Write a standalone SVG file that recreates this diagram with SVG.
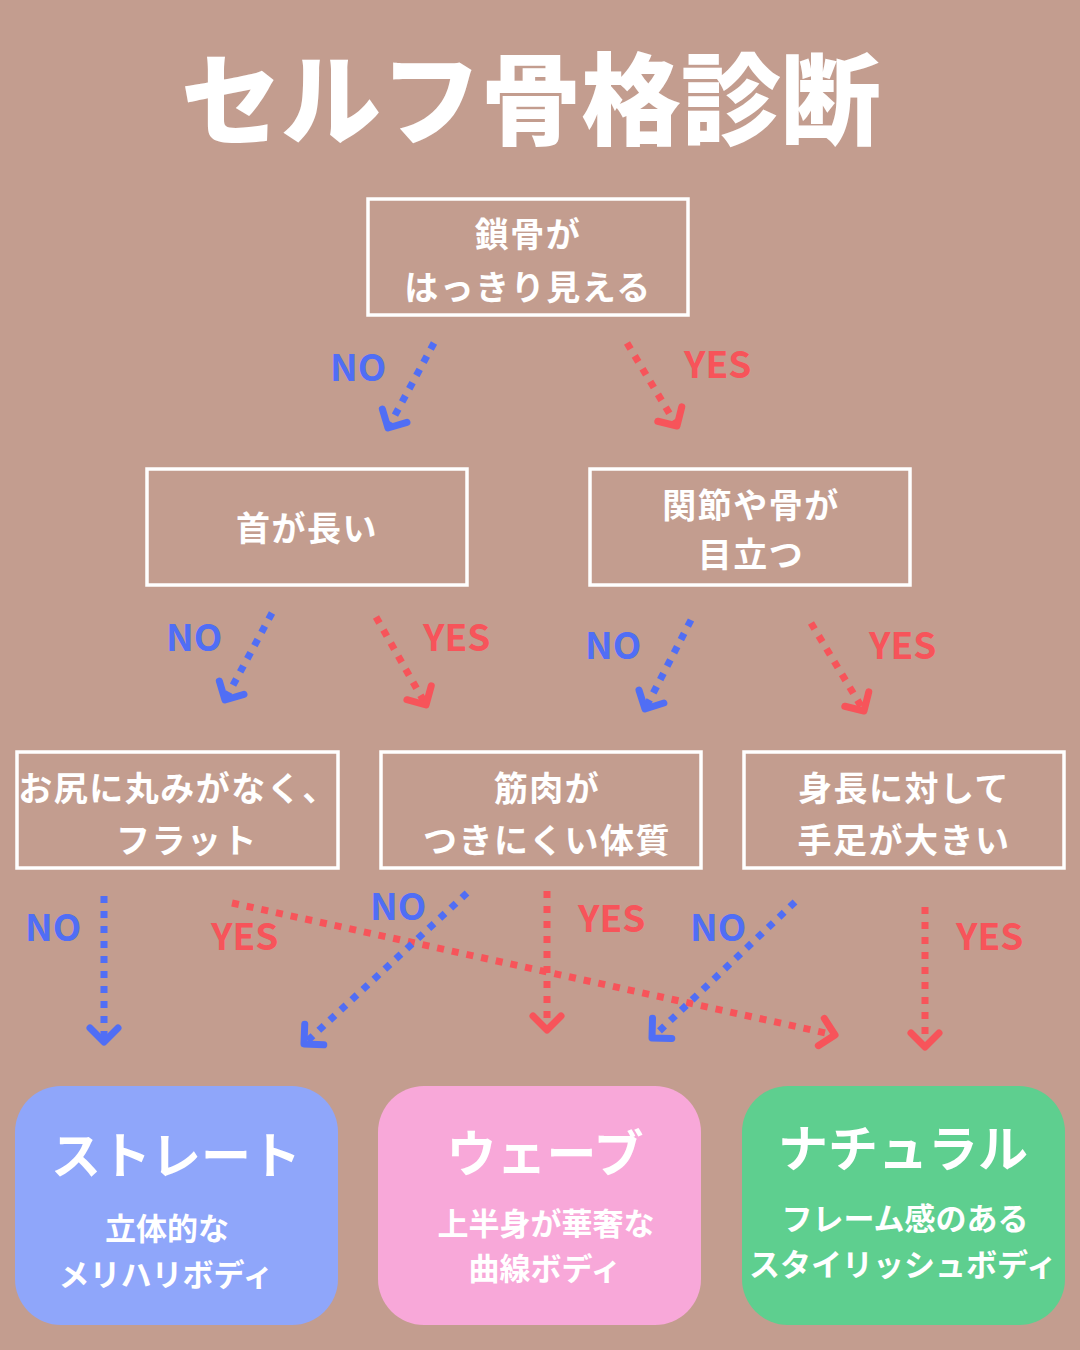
<svg xmlns="http://www.w3.org/2000/svg" width="1080" height="1350" viewBox="0 0 1080 1350">
<style>
.q{fill:none;stroke:#ffffff;stroke-width:3.5}
.qt{font-family:"Noto Sans CJK JP","Noto Sans",sans-serif;font-weight:700;font-size:34px;fill:#ffffff;text-anchor:middle;letter-spacing:1.5px}
.title{font-family:"Noto Sans CJK JP","Noto Sans",sans-serif;font-weight:900;font-size:100px;fill:#ffffff;text-anchor:middle}
.rt{font-family:"Noto Sans CJK JP","Noto Sans",sans-serif;font-weight:700;font-size:50px;fill:#ffffff;text-anchor:middle}
.rs{font-family:"Noto Sans CJK JP","Noto Sans",sans-serif;font-weight:700;font-size:31px;fill:#ffffff;text-anchor:middle}
.lb{font-family:"Noto Sans CJK JP","Noto Sans",sans-serif;font-weight:700;font-size:37px}
.no{fill:#506ef5}
.yes{fill:#f7545a}
.ab{fill:none;stroke:#506ef5;stroke-width:7;stroke-dasharray:7 8;marker-end:url(#hb)}
.ar{fill:none;stroke:#f7545a;stroke-width:7;stroke-dasharray:7 8;marker-end:url(#hr)}
</style>
<defs>
<marker id="hb" markerUnits="userSpaceOnUse" markerWidth="40" markerHeight="40" refX="0" refY="0" orient="auto" style="overflow:visible">
<path d="M-14,-14 L0,0 L-14,14" fill="none" stroke="#506ef5" stroke-width="7" stroke-linecap="round" stroke-linejoin="round"/>
</marker>
<marker id="hr" markerUnits="userSpaceOnUse" markerWidth="40" markerHeight="40" refX="0" refY="0" orient="auto" style="overflow:visible">
<path d="M-14,-14 L0,0 L-14,14" fill="none" stroke="#f7545a" stroke-width="7" stroke-linecap="round" stroke-linejoin="round"/>
</marker>
</defs>
<rect x="0" y="0" width="1080" height="1350" fill="#c39d8f"/>
<text class="title" x="531" y="137">セルフ骨格診断</text>

<g id="q1"><rect class="q" x="368" y="199" width="320" height="116"/>
<text class="qt" x="528" y="247">鎖骨が</text><text class="qt" x="528" y="300">はっきり見える</text></g>
<g id="q2"><rect class="q" x="147" y="469" width="320" height="116"/>
<text class="qt" x="307" y="541">首が長い</text></g>
<g id="q3"><rect class="q" x="590" y="469" width="320" height="116"/>
<text class="qt" x="751" y="518">関節や骨が</text><text class="qt" x="751" y="567">目立つ</text></g>
<g id="q4"><rect class="q" x="17" y="752" width="321" height="116"/>
<text class="qt" x="178" y="801">お尻に丸みがなく、</text><text class="qt" x="187" y="853">フラット</text></g>
<g id="q5"><rect class="q" x="381" y="752" width="320" height="116"/>
<text class="qt" x="547" y="801">筋肉が</text><text class="qt" x="547" y="853">つきにくい体質</text></g>
<g id="q6"><rect class="q" x="744" y="752" width="320" height="116"/>
<text class="qt" x="904" y="801">身長に対して</text><text class="qt" x="904" y="853">手足が大きい</text></g>

<g id="r1"><rect x="15" y="1086" width="323" height="239" rx="46" fill="#8fa6fa"/>
<text class="rt" x="176" y="1174">ストレート</text>
<text class="rs" x="167" y="1240">立体的な</text><text class="rs" x="166" y="1286">メリハリボディ</text></g>
<g id="r2"><rect x="378" y="1086" width="323" height="239" rx="46" fill="#f8a8d9"/>
<text class="rt" x="545" y="1172">ウェーブ</text>
<text class="rs" x="546" y="1235">上半身が華奢な</text><text class="rs" x="545" y="1280">曲線ボディ</text></g>
<g id="r3"><rect x="742" y="1086" width="323" height="239" rx="46" fill="#5ecf8f"/>
<text class="rt" x="903" y="1167">ナチュラル</text>
<text class="rs" x="905" y="1230">フレーム感のある</text><text class="rs" x="903" y="1276">スタイリッシュボディ</text></g>

<g id="connectors">
<path class="ab" d="M434,343 L388,428"/>
<path class="ar" d="M627,343 L677,426"/>
<path class="ab" d="M272,613 L225,700"/>
<path class="ar" d="M376,617 L426,705"/>
<path class="ab" d="M691,620 L645,709"/>
<path class="ar" d="M811,623 L864,711"/>
<path class="ab" d="M104,896 L104,1042"/>
<path class="ar" d="M232,903 L835,1035"/>
<path class="ab" d="M467,893 L304,1044"/>
<path class="ar" d="M547,891 L547,1030"/>
<path class="ab" d="M795,902 L652,1038"/>
<path class="ar" d="M925,907 L925,1047"/>
</g>

<g id="labels">
<text class="lb no" x="330" y="381">NO</text>
<text class="lb yes" x="684" y="378">YES</text>
<text class="lb no" x="166" y="651">NO</text>
<text class="lb yes" x="423" y="651">YES</text>
<text class="lb no" x="585" y="659">NO</text>
<text class="lb yes" x="869" y="659">YES</text>
<text class="lb no" x="25" y="941">NO</text>
<text class="lb yes" x="211" y="950">YES</text>
<text class="lb no" x="370" y="920">NO</text>
<text class="lb yes" x="578" y="932">YES</text>
<text class="lb no" x="690" y="941">NO</text>
<text class="lb yes" x="956" y="950">YES</text>
</g>
</svg>
